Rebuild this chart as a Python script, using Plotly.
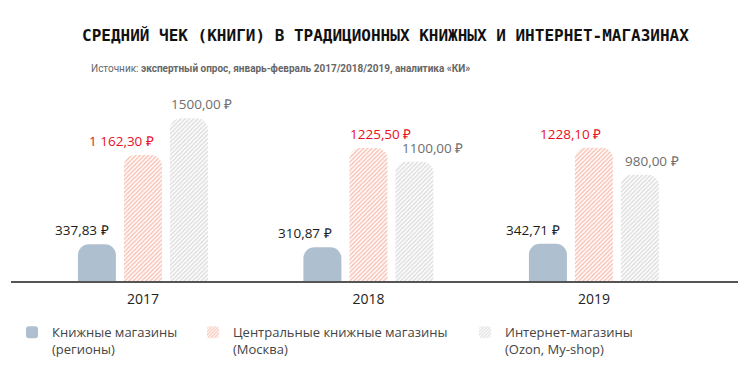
import plotly.graph_objects as go

years = ["2017", "2018", "2019"]
series_names = [
    "Книжные магазины<br>(регионы)",
    "Центральные книжные магазины<br>(Москва)",
    "Интернет-магазины<br>(Ozon, My-shop)",
]
regional = [337.83, 310.87, 342.71]
moscow = [1162.30, 1225.50, 1228.10]
online = [1500.00, 1100.00, 980.00]
regional_text = ["337,83 ₽", "310,87 ₽", "342,71 ₽"]
moscow_text = ["1 162,30 ₽", "1225,50 ₽", "1228,10 ₽"]
online_text = ["1500,00 ₽", "1100,00 ₽", "980,00 ₽"]

title = "СРЕДНИЙ ЧЕК (КНИГИ) В ТРАДИЦИОННЫХ КНИЖНЫХ И ИНТЕРНЕТ-МАГАЗИНАХ"
subtitle = "Источник: <b>экспертный опрос, январь-февраль 2017/2018/2019, аналитика «КИ»</b>"

W, H = 750, 375
L, R, T, B = 11, 12, 102, 91
pw = W - L - R
ph = H - T - B

fig = go.Figure()
styles = [
    dict(color="#aebfcf"),
    dict(color="white", pattern=dict(shape="/", fgcolor="#f2876a", bgcolor="white", size=3, solidity=0.5)),
    dict(color="white", pattern=dict(shape="/", fgcolor="#bdbdbd", bgcolor="white", size=3, solidity=0.5)),
]
data = [regional, moscow, online]
legends = ["legend", "legend2", "legend3"]
for name, vals, st, lg in zip(series_names, data, styles, legends):
    fig.add_trace(go.Bar(
        x=years, y=vals, name=name, marker=dict(line=dict(width=0), cornerradius=11, **st),
        legend=lg, hoverinfo="skip",
    ))

# value labels
label_sets = [regional_text, moscow_text, online_text]
label_colors = ["#1a1a1a", "#e8101c", "#6e6e6e"]
series_offsets = [-46, 0, 46]
adjust = [[-15, -17, -15], [-21, 12, -23], [13, 18, 12]]
for si in range(3):
    for yi in range(3):
        fig.add_annotation(
            x=yi, y=data[si][yi], xref="x", yref="y", text=label_sets[si][yi], showarrow=False,
            xanchor="center", yanchor="bottom", yshift=3,
            xshift=series_offsets[si] + adjust[si][yi],
            font=dict(family="Open Sans", size=13.5, color=label_colors[si]),
        )

fig.add_annotation(
    xref="paper", yref="paper", x=(385 - L) / pw, y=(H - B - 34) / ph,
    xanchor="center", yanchor="middle", text=f"<b>{title}</b>", showarrow=False,
    font=dict(family="DejaVu Sans Mono", size=16, color="#111"),
)
fig.add_annotation(
    xref="paper", yref="paper", x=(89 - L) / pw, y=(H - B - 68) / ph,
    xanchor="left", yanchor="middle", text=subtitle, showarrow=False,
    font=dict(family="Roboto", size=10, color="#666"),
)

leg_common = dict(orientation="v", yanchor="top", y=(H - B - 321) / ph, xanchor="left",
                  font=dict(family="Open Sans", size=13, color="#444"),
                  bgcolor="rgba(0,0,0,0)", valign="top", tracegroupgap=0)
fig.update_layout(
    width=W, height=H,
    margin=dict(l=L, r=R, t=T, b=B, pad=0),
    paper_bgcolor="white", plot_bgcolor="white",
    barmode="group", bargap=0.388, bargroupgap=0.174,
    showlegend=True,
    legend=dict(x=(12 - L) / pw, **leg_common),
    legend2=dict(x=(193 - L) / pw, **leg_common),
    legend3=dict(x=(465 - L) / pw, **leg_common),
    xaxis=dict(
        type="category", range=[-0.585, 2.639], showline=True, linecolor="#555", linewidth=2,
        ticks="", ticklabelstandoff=4, tickfont=dict(family="Open Sans", size=14, color="#222"),
        showgrid=False, fixedrange=True,
    ),
    yaxis=dict(range=[0, 1650], visible=False, showgrid=False, zeroline=False, fixedrange=True),
)

fig.write_html("out.html")
